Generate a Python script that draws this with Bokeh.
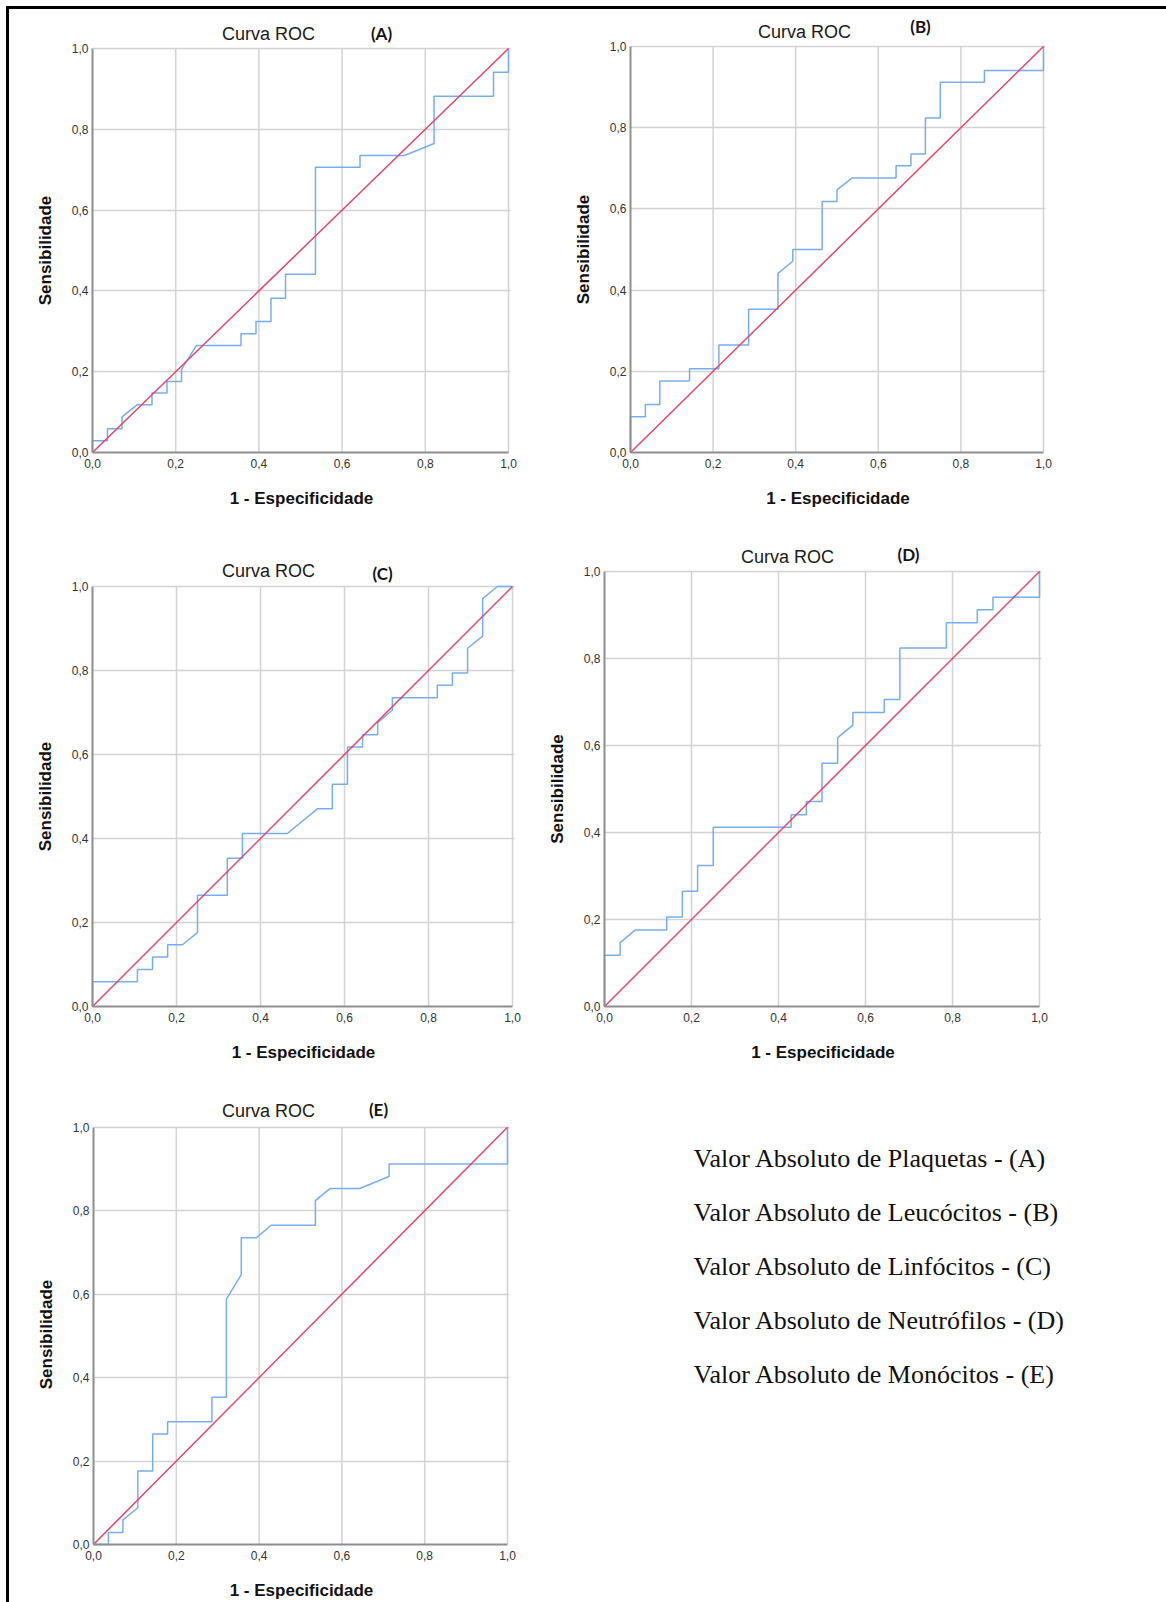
from bokeh.plotting import figure
from bokeh.models import Range1d, FixedTicker, Spacer, Title
from bokeh.layouts import row, column
from bokeh.embed import file_html
from bokeh.resources import INLINE
from bokeh.core.properties import value

# ROC points: (1 - especificidade, sensibilidade)
roc_a = [(0.0, 0.0), (0.0, 0.029), (0.036, 0.029), (0.036, 0.059), (0.071, 0.059),
         (0.071, 0.088), (0.107, 0.118), (0.143, 0.118), (0.143, 0.147), (0.179, 0.147),
         (0.179, 0.176), (0.214, 0.176), (0.214, 0.206), (0.25, 0.265), (0.357, 0.265),
         (0.357, 0.294), (0.393, 0.294), (0.393, 0.324), (0.429, 0.324), (0.429, 0.382),
         (0.464, 0.382), (0.464, 0.441), (0.536, 0.441), (0.536, 0.706), (0.643, 0.706),
         (0.643, 0.735), (0.75, 0.735), (0.821, 0.765), (0.821, 0.882), (0.964, 0.882),
         (0.964, 0.941), (1.0, 0.941), (1.0, 1.0)]

roc_b = [(0.0, 0.0), (0.0, 0.088), (0.036, 0.088), (0.036, 0.118), (0.071, 0.118),
         (0.071, 0.176), (0.143, 0.176), (0.143, 0.206), (0.214, 0.206), (0.214, 0.265),
         (0.286, 0.265), (0.286, 0.353), (0.357, 0.353), (0.357, 0.441), (0.393, 0.471),
         (0.393, 0.5), (0.464, 0.5), (0.464, 0.618), (0.5, 0.618), (0.5, 0.647),
         (0.536, 0.676), (0.643, 0.676), (0.643, 0.706), (0.679, 0.706), (0.679, 0.735),
         (0.714, 0.735), (0.714, 0.824), (0.75, 0.824), (0.75, 0.912), (0.857, 0.912),
         (0.857, 0.941), (1.0, 0.941), (1.0, 1.0)]

roc_c = [(0.0, 0.0), (0.0, 0.059), (0.107, 0.059), (0.107, 0.088), (0.143, 0.088),
         (0.143, 0.118), (0.179, 0.118), (0.179, 0.147), (0.214, 0.147), (0.25, 0.176),
         (0.25, 0.265), (0.321, 0.265), (0.321, 0.353), (0.357, 0.353), (0.357, 0.412),
         (0.464, 0.412), (0.536, 0.471), (0.571, 0.471), (0.571, 0.529), (0.607, 0.529),
         (0.607, 0.618), (0.643, 0.618), (0.643, 0.647), (0.679, 0.647), (0.679, 0.676),
         (0.714, 0.706), (0.714, 0.735), (0.821, 0.735), (0.821, 0.765), (0.857, 0.765),
         (0.857, 0.794), (0.893, 0.794), (0.893, 0.853), (0.929, 0.882), (0.929, 0.971),
         (0.964, 1.0), (1.0, 1.0)]

roc_d = [(0.0, 0.0), (0.0, 0.118), (0.036, 0.118), (0.036, 0.147), (0.071, 0.176),
         (0.143, 0.176), (0.143, 0.206), (0.179, 0.206), (0.179, 0.265), (0.214, 0.265),
         (0.214, 0.324), (0.25, 0.324), (0.25, 0.412), (0.429, 0.412), (0.429, 0.441),
         (0.464, 0.441), (0.464, 0.471), (0.5, 0.471), (0.5, 0.559), (0.536, 0.559),
         (0.536, 0.618), (0.571, 0.647), (0.571, 0.676), (0.643, 0.676), (0.643, 0.706),
         (0.679, 0.706), (0.679, 0.824), (0.786, 0.824), (0.786, 0.882), (0.857, 0.882),
         (0.857, 0.912), (0.893, 0.912), (0.893, 0.941), (1.0, 0.941), (1.0, 1.0)]

roc_e = [(0.0, 0.0), (0.036, 0.0), (0.036, 0.029), (0.071, 0.029), (0.071, 0.059),
         (0.107, 0.088), (0.107, 0.176), (0.143, 0.176), (0.143, 0.265), (0.179, 0.265),
         (0.179, 0.294), (0.286, 0.294), (0.286, 0.353), (0.321, 0.353), (0.321, 0.588),
         (0.357, 0.647), (0.357, 0.735), (0.393, 0.735), (0.429, 0.765), (0.536, 0.765),
         (0.536, 0.824), (0.571, 0.853), (0.643, 0.853), (0.714, 0.882), (0.714, 0.912),
         (1.0, 0.912), (1.0, 1.0)]

# chance line
ref_x = [0.0, 1.0]
ref_y = [0.0, 1.0]

tick_values = [0.0, 0.2, 0.4, 0.6, 0.8, 1.0]
tick_labels = ["0,0", "0,2", "0,4", "0,6", "0,8", "1,0"]
panel_tags = ["(A)", "(B)", "(C)", "(D)", "(E)"]
legend_labels = [
    "Valor Absoluto de Plaquetas - (A)",
    "Valor Absoluto de Leucócitos - (B)",
    "Valor Absoluto de Linfócitos - (C)",
    "Valor Absoluto de Neutrófilos - (D)",
    "Valor Absoluto de Monócitos - (E)",
]

SANS = "Liberation Sans"
ROC_BLUE = "#78aded"
REF_RED = "#e3456b"
GRID = "#d3d3d3"
AXIS = "#8e8e8e"
Y_CAPTION = "Sensibilidade"
Y_CAPTION_LEN = 109.6  # rendered length of the caption at 17px bold, in pixels


def roc_panel(points, tag, width, height, box, head, title_off, tag_off):
    """box = (left, right, top, bottom) canvas borders around the unit square,
    head = extra pixels of plotting area kept above y = 1 for the headings."""
    left, right, top, bottom = box
    fw = width - left - right
    fh = height - top - bottom
    pad = 2  # room so the x = 1 grid line is not cut by the frame edge
    p = figure(width=width, height=height,
               output_backend="svg", toolbar_location=None,
               x_range=Range1d(0, 1 + pad / fw), y_range=Range1d(0, 1 + head / fh),
               min_border_left=left, min_border_right=right - pad,
               min_border_top=top - head, min_border_bottom=bottom,
               background_fill_color="white", border_fill_color="white",
               outline_line_color=None)

    overrides = dict(zip(tick_values, tick_labels))
    for ax in (p.xaxis[0], p.yaxis[0]):
        ax.ticker = FixedTicker(ticks=tick_values)
        ax.major_label_overrides = overrides
        ax.bounds = (0, 1)
        ax.major_tick_line_color = None
        ax.minor_tick_line_color = None
        ax.major_tick_in = 0
        ax.major_tick_out = 0
        ax.axis_line_color = AXIS
        ax.axis_line_width = 2
        ax.major_label_text_font = SANS
        ax.major_label_text_font_size = "12px"
        ax.major_label_text_color = "#333333"
    xa = p.xaxis[0]
    xa.axis_label = "1 - Especificidade"
    xa.axis_label_text_font = SANS
    xa.axis_label_text_font_size = "17px"
    xa.axis_label_text_font_style = "bold"
    xa.axis_label_text_color = "#111111"
    xa.major_label_standoff = 6
    xa.axis_label_standoff = 18
    p.yaxis[0].major_label_standoff = 4

    # y caption centred on the unit square rather than on the whole plotting area
    p.add_layout(Title(text=Y_CAPTION, align="left", offset=fh / 2 - Y_CAPTION_LEN / 2,
                       standoff=28, text_font=SANS, text_font_size="17px",
                       text_font_style="bold", text_color="#111111"), "left")

    # horizontal grid from the axis ticks, vertical grid bounded to the unit square
    p.xgrid.visible = False
    p.ygrid[0].ticker = FixedTicker(ticks=tick_values)
    p.ygrid[0].grid_line_color = GRID
    p.ygrid[0].grid_line_width = 1.5
    vx = tick_values[1:]
    p.segment(x0=vx, y0=[0.0] * len(vx), x1=vx, y1=[1.0] * len(vx),
              line_color=GRID, line_width=1.5, level="underlay")

    xs = [pt[0] for pt in points]
    ys = [pt[1] for pt in points]
    curve = p.line(xs, ys, line_color=ROC_BLUE, line_width=1.5)
    diag = p.line(ref_x, ref_y, line_color=REF_RED, line_width=1.5)
    curve.level = "guide"
    diag.level = "guide"

    p.text(x=[title_off[0] / fw], y=[1 + title_off[1] / fh], text=["Curva ROC"],
           text_align="center", text_baseline="middle",
           text_font=value(SANS), text_font_size="18px", text_color="#1a1a1a")
    p.text(x=[tag_off[0] / fw], y=[1 + tag_off[1] / fh], text=[tag],
           text_align="center", text_baseline="middle",
           text_font=value("Lato"), text_font_size="17px", text_font_style="bold",
           text_color="#141414")
    return p


fig_a = roc_panel(roc_a, panel_tags[0], 547, 516, (83, 48, 39, 73), 32, (176, 15), (289, 15))
fig_b = roc_panel(roc_b, panel_tags[1], 610, 516, (74, 123, 37, 73), 30, (174, 15), (290, 20))
fig_c = roc_panel(roc_c, panel_tags[2], 521, 543, (83, 18, 61, 62), 46, (176, 16), (290, 13))
fig_d = roc_panel(roc_d, panel_tags[3], 636, 543, (74, 127, 46, 62), 31, (183, 15), (304, 17))
fig_e = roc_panel(roc_e, panel_tags[4], 551, 534, (84, 53, 59, 55), 42, (175, 16), (285, 18))

# variable key, drawn as plain text lines; ranges follow page pixels
key_top, key_bottom = 1085, 1547
leg = figure(width=606, height=534, output_backend="svg", toolbar_location=None,
             x_range=Range1d(560, 1166), y_range=Range1d(key_bottom, key_top),
             x_axis_location=None, y_axis_location=None,
             min_border_left=0, min_border_right=0,
             min_border_top=key_top - 1068, min_border_bottom=1602 - key_bottom,
             outline_line_color=None,
             background_fill_color="white", border_fill_color="white")
leg.grid.visible = False
leg.text(x=[693] * len(legend_labels),
         y=[1158 + 54.5 * i for i in range(len(legend_labels))],
         text=legend_labels, text_font=value("Liberation Serif"),
         text_font_size="26px", text_baseline="middle", text_align="left",
         text_color="#111111")

grid = column(row(fig_a, fig_b), row(fig_c, fig_d), row(fig_e, leg))

black = {"background-color": "black"}
page = column(
    Spacer(width=1166, height=6),
    row(Spacer(width=6, height=3), Spacer(width=1160, height=3, styles=black)),
    row(Spacer(width=6, height=1593), Spacer(width=3, height=1593, styles=black), grid),
)

open("out.html", "w").write(file_html(page, INLINE))
